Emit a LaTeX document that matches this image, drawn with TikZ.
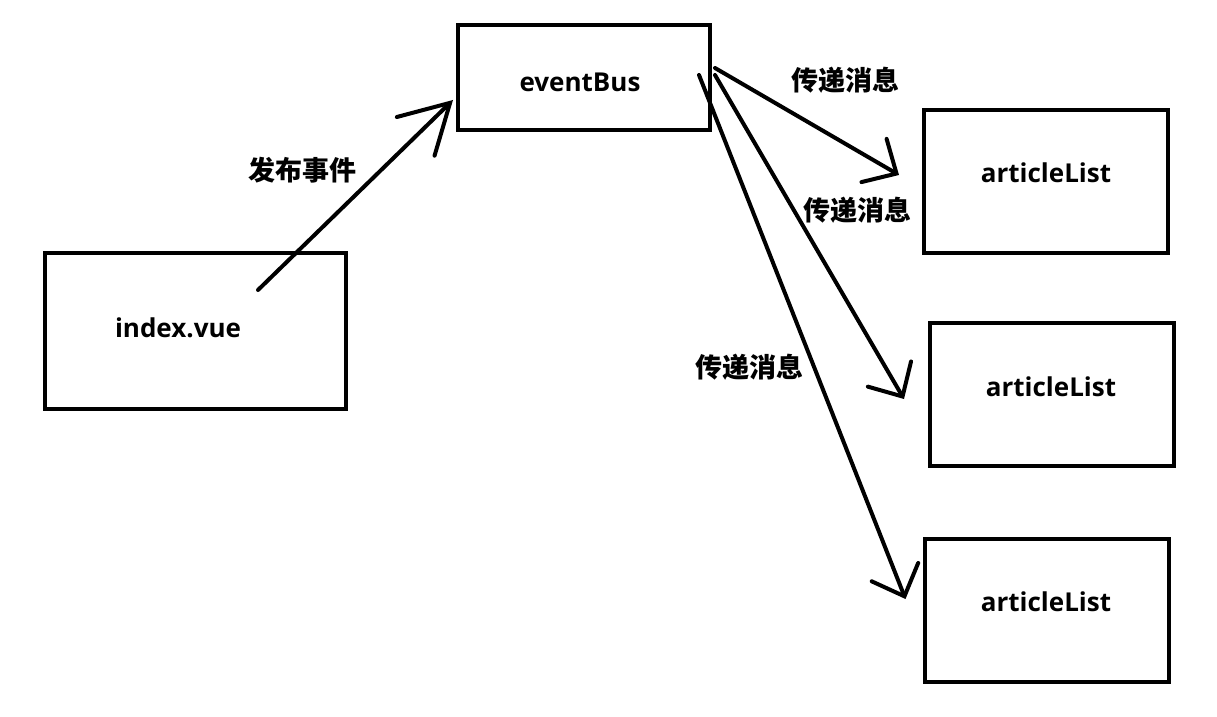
\documentclass[tikz,border=0pt]{standalone}
\usepackage{fontspec}
\setmainfont{Open Sans}
\newfontfamily\cjk{Noto Sans CJK SC}
\usetikzlibrary{arrows.meta}

\tikzset{
  box/.style={draw, line width=4pt, minimum width=244pt, minimum height=143pt},
  boxtext/.style={font=\bfseries\fontsize{26}{26}\selectfont},
  msg/.style={font=\cjk\bfseries\fontsize{27}{27}\selectfont},
  flow/.style={line width=4pt, line cap=round,
    -{Straight Barb[length=26pt,width=50pt,line cap=round]}},
}

\begin{document}
\begin{tikzpicture}[x=1pt,y=1pt]

\useasboundingbox (0,0) rectangle (1217,716);

% boxes
\node[box, minimum width=252pt, minimum height=105pt] (bus) at (584,638.5) {};
\node[box, minimum width=301pt, minimum height=156pt] (index) at (195.5,385) {};
\node[box] (listA) at (1046,534.5) {};
\node[box] (listB) at (1052,321.5) {};
\node[box] (listC) at (1046.5,106) {};

% box texts
\node[boxtext] (bustext) at (580,634) {eventBus};
\node[boxtext] (indextext) at (178,388) {index.vue};
\node[boxtext] (listAtext) at (1046,543) {articleList};
\node[boxtext] (listBtext) at (1051,329) {articleList};
\node[boxtext] (listCtext) at (1046,114) {articleList};

\coordinate (pubstart) at ([shift={(62.5,-39)}]index.north);
\coordinate (pubend) at ([shift={(-3,-22.5)}]bus.west);

\coordinate (outA) at ([shift={(3,9.5)}]bus.east);
\coordinate (outB) at ([shift={(3,2.5)}]bus.east);
\coordinate (outC) at ([shift={(-13,2.5)}]bus.east);

\coordinate (inA) at ([shift={(-23,6.5)}]listA.west);
\coordinate (inB) at ([shift={(-24,-4.5)}]listB.west);
\coordinate (inC) at ([shift={(-17,11)}]listC.west);

\draw[flow, -{Straight Barb[length=48pt,width=54pt,line cap=round]}] (pubstart) -- (pubend);
\draw[flow] (outA) -- (inA);
\draw[flow] (outB) -- (inB);
\draw[flow] (outC) -- (inC);

\node[msg] (pub) at (302,546) {发布事件};
\node[msg] (msgA) at (845,636) {传递消息};
\node[msg] (msgB) at (857,506) {传递消息};
\node[msg] (msgC) at (749,349) {传递消息};

\end{tikzpicture}
\end{document}
